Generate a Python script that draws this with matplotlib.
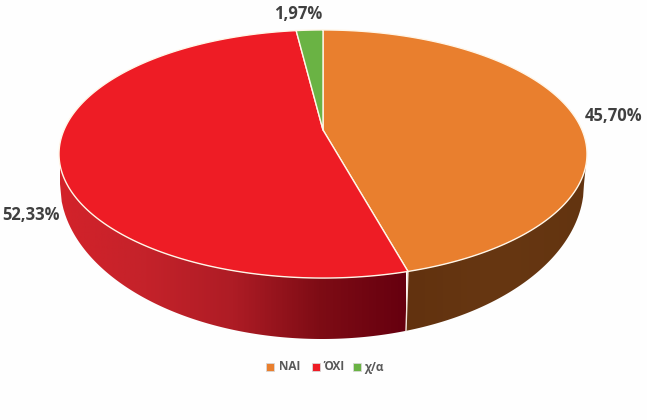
import matplotlib
matplotlib.use("Agg")
import matplotlib.pyplot as plt
import numpy as np
from matplotlib.colors import LinearSegmentedColormap
from matplotlib.patches import Polygon, Rectangle

categories = ["NAI", "ΌΧΙ", "χ/α"]
values = [45.70, 52.33, 1.97]
labels = ["45,70%", "52,33%", "1,97%"]
colors = ["#E97F2E", "#EE1C25", "#6AB344"]

# the pie is a tilted disc, so the rim goes through a small perspective map
CX, CY = 323, 130
K = 0.1935
A, B = 259, 119.4
T_RIGHT, T_LEFT = 101.2, 258.8  # where the rim is widest

# lower edge of the wall
LOW_X, LOW_Y, LOW_RX, LOW_RY = 322, 184, 262, 155


def rim(t):
    t = np.radians(t)
    x, y = np.sin(t), np.cos(t)
    d = 1 + K * y
    return np.column_stack((CX + A * x / d, CY - B * y / d))


def low_edge(x):
    s = np.sqrt(np.clip(1 - ((x - LOW_X) / LOW_RX) ** 2, 0, 1))
    return np.column_stack((x, LOW_Y + LOW_RY * s))


def side(t0, t1, x_from, x_to, cmap, x0, x1):
    top = rim(np.linspace(t0, t1, 200))
    low = low_edge(np.linspace(x_from, x_to, 200))
    poly = Polygon(np.vstack((top, low)), closed=True, transform=ax.transData, fc="none", ec="none")
    ax.add_patch(poly)
    im = ax.imshow(np.linspace(0, 1, 256).reshape(1, -1), cmap=cmap, extent=(x0, x1, 345, 60),
                   aspect="auto", zorder=1)
    im.set_clip_path(poly)


fig = plt.figure(figsize=(6.47, 4.2), dpi=100, facecolor="#FEFEFE")
ax = fig.add_axes([0, 0, 1, 1])

# side walls first, the top faces cover what is behind them
edges = np.cumsum([0] + values) * 3.6
seam = rim(np.array([edges[1]]))[0]
seam_x = seam[0] - 2
red_side = LinearSegmentedColormap.from_list("r", ["#D3222A", "#C4222A", "#AE1C25", "#7E0C15", "#66000F"])
brown_side = LinearSegmentedColormap.from_list("b", ["#62320F", "#673712", "#633410"])
side(edges[1], T_LEFT, LOW_X - LOW_RX, seam_x, red_side.reversed(), 406, 60)
side(T_RIGHT, edges[1], seam_x, LOW_X + LOW_RX, brown_side, 406, 590)

for i in range(len(values)):
    ts = np.linspace(edges[i], edges[i + 1], 200)
    pts = np.vstack(([[CX, CY]], rim(ts)))
    ax.add_patch(Polygon(pts, closed=True, fc=colors[i], ec="#FFF6E8", lw=1.0, zorder=3, joinstyle="round"))

# white seam on the wall between red and brown
seam_low = low_edge(np.array([seam_x]))[0]
ax.plot([seam[0], seam_low[0]], [seam[1], seam_low[1]], color="#F4E6DC", lw=1.0, zorder=2)

label_pos = [(614, 116), (31, 215), (298, 14)]
for lab, (x, y) in zip(labels, label_pos):
    ax.text(x, y, lab, ha="center", va="center", fontsize=12, fontweight="bold",
            family="Open Sans", color="#404040", zorder=4)

# legend
legend_sq = [266, 312, 353]
legend_tx = [279, 323, 364]
for i in range(len(categories)):
    ax.add_patch(Rectangle((legend_sq[i], 363), 8, 8, fc=colors[i], ec="#D8D8D8", lw=0.6, zorder=4))
    ax.text(legend_tx[i], 367, categories[i], ha="left", va="center", fontsize=8.5, fontweight="bold",
            family="Open Sans", color="#595959", zorder=4)

ax.set_xlim(0, 647)
ax.set_ylim(420, 0)
ax.axis("off")
fig.savefig("out.png", dpi=100, facecolor=fig.get_facecolor())
